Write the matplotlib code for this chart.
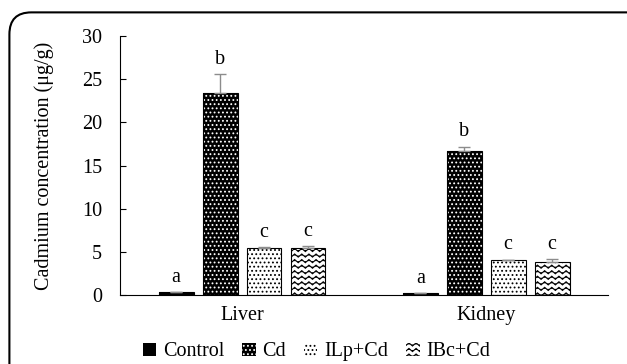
import numpy as np
import matplotlib
matplotlib.use("Agg")
import matplotlib.pyplot as plt
import matplotlib.hatch as mhatch
from matplotlib.path import Path
from matplotlib.patches import Patch, FancyBboxPatch

# data
tissues = ["Liver", "Kidney"]
groups = ["Control", "Cd", "ILp+Cd", "IBc+Cd"]
means = {
    "Control": [0.3, 0.2],
    "Cd": [23.4, 16.7],
    "ILp+Cd": [5.5, 4.0],
    "IBc+Cd": [5.4, 3.8],
}
errs = {
    "Control": [0.05, 0.05],
    "Cd": [2.2, 0.5],
    "ILp+Cd": [0.05, 0.1],
    "IBc+Cd": [0.25, 0.4],
}
letters = {
    "Control": ["a", "a"],
    "Cd": ["b", "b"],
    "ILp+Cd": ["c", "c"],
    "IBc+Cd": ["c", "c"],
}


class WaveHatch(mhatch.HatchPatternBase):
    """wavy horizontal lines, one set of rows per '~'"""
    def __init__(self, hatch, density):
        self.num_rows = int(hatch.count('~') * density)
        self.npts = 57
        self.num_vertices = self.num_rows * self.npts

    def set_vertices_and_codes(self, vertices, codes):
        x = np.linspace(0, 1, self.npts)
        step = 1.0 / self.num_rows
        for i in range(self.num_rows):
            s = slice(i * self.npts, (i + 1) * self.npts)
            vertices[s, 0] = x
            vertices[s, 1] = i * step + 0.28 * step * np.sin(2 * np.pi * 14 * x)
            codes[s] = Path.LINETO
            codes[i * self.npts] = Path.MOVETO


mhatch._hatch_types.append(WaveHatch)

plt.rcParams['font.family'] = ['Liberation Serif', 'DejaVu Serif']
plt.rcParams['hatch.linewidth'] = 0.8

FS = 14.5

fig = plt.figure(figsize=(6.27, 3.64), dpi=100)
ax = fig.add_axes([0.1914, 0.1896, 0.7786, 0.7114])

styles = {
    "Control": dict(face="black", hatch=None, hcol="black"),
    "Cd": dict(face="black", hatch="....", hcol="white"),
    "ILp+Cd": dict(face="white", hatch="....", hcol="black"),
    "IBc+Cd": dict(face="white", hatch="~~~", hcol="black"),
}

x = np.arange(len(tissues))
width = 0.143
gap = 0.18
for i, g in enumerate(groups):
    pos = x + (i - 1.5) * gap
    st = styles[g]
    # fill + hatch, then outline on top
    ax.bar(pos, means[g], width, color=st["face"], edgecolor=st["hcol"],
           hatch=st["hatch"], linewidth=0, zorder=2)
    ax.bar(pos, means[g], width, fill=False, edgecolor="black",
           linewidth=0.8, zorder=3)
    ax.errorbar(pos, means[g], yerr=[np.zeros(len(tissues)), errs[g]],
                fmt="none", ecolor="#8c8c8c", elinewidth=1, capsize=4,
                capthick=1, zorder=4)
    for p, m, e, lab in zip(pos, means[g], errs[g], letters[g]):
        ax.text(p, m + e + 0.6, lab, ha="center", va="bottom", fontsize=FS)

ax.set_xlim(-0.5, 1.5)
ax.set_ylim(0, 30)
ax.set_yticks([0, 5, 10, 15, 20, 25, 30])
ax.set_xticks(x)
ax.set_xticklabels(tissues, fontsize=FS)
ax.tick_params(axis="y", direction="in", length=4, width=0.8, labelsize=FS, pad=13)
ax.tick_params(axis="x", length=0, pad=8)
for sp in ["top", "right"]:
    ax.spines[sp].set_visible(False)
ax.spines["left"].set_linewidth(0.8)
ax.spines["bottom"].set_linewidth(0.8)
ax.set_ylabel("Cadmium concentration (μg/g)", fontsize=FS, labelpad=20)

handles = [Patch(facecolor=styles[g]["face"], edgecolor=styles[g]["hcol"],
                 hatch=styles[g]["hatch"], linewidth=0) for g in groups]
fig.legend(handles, groups, loc="center", bbox_to_anchor=(0.505, 0.033),
           ncol=4, frameon=False, fontsize=FS, handlelength=0.65,
           handleheight=0.65, handletextpad=0.35, columnspacing=0.9)

border = FancyBboxPatch((0.015, -0.1), 1.1, 1.066, transform=fig.transFigure,
                        boxstyle="round,pad=0,rounding_size=0.035",
                        facecolor="none", edgecolor="black", linewidth=1.5,
                        clip_on=False, mutation_aspect=627 / 364)
fig.patches.append(border)

fig.savefig("out.png", dpi=100)
